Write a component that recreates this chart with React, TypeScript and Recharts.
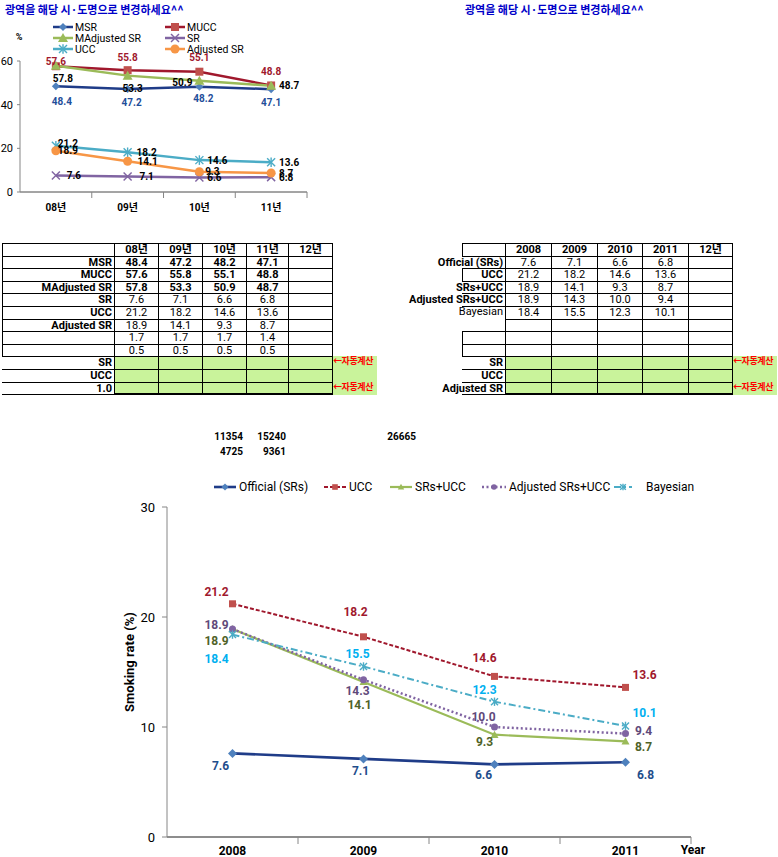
import React from 'react';
import { LineChart, Line, XAxis, YAxis, LabelList } from 'recharts';

// 연도
const yearsKr = ['08년', '09년', '10년', '11년'];
const yearsEn = ['2008', '2009', '2010', '2011'];
const extraYear = '12년';

// 상단 차트 / 좌측 표
const msr = [48.4, 47.2, 48.2, 47.1];
const mucc = [57.6, 55.8, 55.1, 48.8];
const mAdjSr = [57.8, 53.3, 50.9, 48.7];
const sr = [7.6, 7.1, 6.6, 6.8];
const ucc = [21.2, 18.2, 14.6, 13.6];
const adjSr = [18.9, 14.1, 9.3, 8.7];
const ratioA = [1.7, 1.7, 1.7, 1.4];
const ratioB = [0.5, 0.5, 0.5, 0.5];

// 하단 차트 / 우측 표
const adjSrsUcc = [18.9, 14.3, 10.0, 9.4];
const bayesian = [18.4, 15.5, 12.3, 10.1];

// 표 아래 숫자
const countsRow1 = [11354, 15240, 26665];
const countsRow2 = [4725, 9361];

const title = '광역을 해당 시·도명으로 변경하세요^^';
const autoCalc = '←자동계산';

const FONT = "Roboto, 'Noto Sans CJK KR', sans-serif";
const AXIS = '#868686';
const GREEN = '#c9f39b';

const fmt = (a: number[]) => a.map((v) => v.toFixed(1));

const topData = yearsKr.map((y, i) => ({
  pos: i + 0.5,
  msr: msr[i],
  mucc: mucc[i],
  mAdjSr: mAdjSr[i],
  sr: sr[i],
  ucc: ucc[i],
  adjSr: adjSr[i],
}));

const mainData = yearsEn.map((y, i) => ({
  pos: i + 0.5,
  official: sr[i],
  ucc: ucc[i],
  srsUcc: adjSr[i],
  adjSrsUcc: adjSrsUcc[i],
  bayesian: bayesian[i],
}));

type Shape = 'diamond' | 'square' | 'triangle' | 'x' | 'star' | 'circle';

function Mark({ shape, cx, cy, color, s }: { shape: Shape; cx: number; cy: number; color: string; s: number }) {
  if (cx == null || cy == null) return <g />;
  switch (shape) {
    case 'diamond':
      return <polygon points={`${cx},${cy - s} ${cx + s},${cy} ${cx},${cy + s} ${cx - s},${cy}`} fill={color} />;
    case 'square':
      return <rect x={cx - s} y={cy - s} width={2 * s} height={2 * s} fill={color} />;
    case 'triangle':
      return <polygon points={`${cx},${cy - s} ${cx + s},${cy + s * 0.8} ${cx - s},${cy + s * 0.8}`} fill={color} />;
    case 'x':
      return (
        <g stroke={color} strokeWidth={1.5}>
          <line x1={cx - s} y1={cy - s} x2={cx + s} y2={cy + s} />
          <line x1={cx - s} y1={cy + s} x2={cx + s} y2={cy - s} />
        </g>
      );
    case 'star':
      return (
        <g stroke={color} strokeWidth={1.4}>
          <line x1={cx - s} y1={cy - s} x2={cx + s} y2={cy + s} />
          <line x1={cx - s} y1={cy + s} x2={cx + s} y2={cy - s} />
          <line x1={cx} y1={cy - s * 1.2} x2={cx} y2={cy + s * 1.2} />
        </g>
      );
    default:
      return <circle cx={cx} cy={cy} r={s} fill={color} />;
  }
}

interface SeriesCfg {
  key: string;
  name: string;
  line: string;
  mark: string;
  shape: Shape;
  size: number;
  width: number;
  dash?: string;
  labelColor: string;
  off: number[][];
}

const topSeries: SeriesCfg[] = [
  { key: 'msr', name: 'MSR', line: '#1f3c88', mark: '#4f81bd', shape: 'diamond', size: 4, width: 2.5, labelColor: '#1f4e9a', off: [[6, 15], [4, 14], [4, 12], [0, 13]] },
  { key: 'mucc', name: 'MUCC', line: '#a0182d', mark: '#c0504d', shape: 'square', size: 4, width: 2.5, labelColor: '#a0182d', off: [[0, -5], [0, -13], [0, -14], [0, -14]] },
  { key: 'mAdjSr', name: 'MAdjusted SR', line: '#9bbb59', mark: '#9bbb59', shape: 'triangle', size: 5, width: 2.5, labelColor: '#000', off: [[7, 13], [5, 13], [-17, 2], [18, 0]] },
  { key: 'sr', name: 'SR', line: '#8064a2', mark: '#8064a2', shape: 'x', size: 4, width: 2.5, labelColor: '#000', off: [[18, 0], [19, 0], [15, 0], [15, 0]] },
  { key: 'ucc', name: 'UCC', line: '#4bacc6', mark: '#4bacc6', shape: 'star', size: 4, width: 2.5, labelColor: '#000', off: [[12, -2], [19, 0], [18, 0], [18, 0]] },
  { key: 'adjSr', name: 'Adjusted SR', line: '#f79646', mark: '#f79646', shape: 'circle', size: 4.5, width: 2.5, labelColor: '#000', off: [[12, 0], [20, 0], [13, 0], [15, 0]] },
];

const mainSeries: SeriesCfg[] = [
  { key: 'official', name: 'Official (SRs)', line: '#1f3c88', mark: '#4f81bd', shape: 'diamond', size: 4.5, width: 2.6, labelColor: '#1f4e8c', off: [[-12, 13], [-3, 12], [-11, 11], [20, 13]] },
  { key: 'ucc', name: 'UCC', line: '#a0182d', mark: '#c0504d', shape: 'square', size: 3.5, width: 2, dash: '4 2', labelColor: '#a0182d', off: [[-16, -12], [-8, -25], [-10, -18], [19, -12]] },
  { key: 'srsUcc', name: 'SRs+UCC', line: '#9bbb59', mark: '#9bbb59', shape: 'triangle', size: 4, width: 2.2, labelColor: '#4f6228', off: [[-16, 12], [-4, 23], [-10, 7], [18, 6]] },
  { key: 'adjSrsUcc', name: 'Adjusted SRs+UCC', line: '#8064a2', mark: '#8064a2', shape: 'circle', size: 3.5, width: 2.5, dash: '2 2.5', labelColor: '#5f497a', off: [[-16, -4], [-6, 11], [-11, -10], [18, -3]] },
  { key: 'bayesian', name: 'Bayesian', line: '#4bacc6', mark: '#4bacc6', shape: 'star', size: 3.5, width: 2, dash: '7 3 2 3', labelColor: '#00b0f0', off: [[-16, 24], [-6, -13], [-10, -12], [19, -13]] },
];

function renderSeries(list: SeriesCfg[], fontSize: number) {
  return list.map((s) => (
    <Line
      key={s.key}
      type="linear"
      dataKey={s.key}
      stroke={s.line}
      strokeWidth={s.width}
      strokeDasharray={s.dash}
      isAnimationActive={false}
      dot={(p: any) => <Mark key={`${s.key}-${p.index}`} shape={s.shape} cx={Number(p.cx)} cy={Number(p.cy)} color={s.mark} s={s.size} />}
      activeDot={false}
    >
      <LabelList
        dataKey={s.key}
        content={(p: any) => {
          const o = s.off[p.index] || [0, 0];
          return (
            <text
              key={`${s.key}-l-${p.index}`}
              x={Number(p.x) + o[0]}
              y={Number(p.y) + o[1]}
              textAnchor="middle"
              dominantBaseline="central"
              fill={s.labelColor}
              fontSize={fontSize}
              fontWeight="bold"
              fontFamily={FONT}
            >
              {Number(p.value).toFixed(1)}
            </text>
          );
        }}
      />
    </Line>
  ));
}

// category label at the band centre, tick mark at the band's right edge
function bandTick(labels: string[], halfBand: number, tickLen: number, fontSize: number, labelDy: number) {
  return (p: any) => {
    const idx = Math.floor(Number(p.payload.value));
    const x = Number(p.x);
    const y = Number(p.y);
    return (
      <g>
        <line x1={x + halfBand} y1={y - 2} x2={x + halfBand} y2={y - 2 + tickLen} stroke={AXIS} strokeWidth={1} />
        <text x={x} y={y + labelDy} textAnchor="middle" dominantBaseline="central" fontSize={fontSize} fontWeight="bold" fontFamily={FONT} fill="#000">
          {labels[idx]}
        </text>
      </g>
    );
  };
}

function TopChart() {
  const legendPos = [
    [53, 27], [165, 27],
    [53, 38], [165, 38],
    [53, 49], [165, 49],
  ];
  return (
    <div style={{ position: 'absolute', left: 0, top: 0, width: 330, height: 220 }}>
      <LineChart width={330} height={220} data={topData} margin={{ top: 61, right: 23, bottom: 0, left: 0 }}>
        <XAxis
          dataKey="pos"
          type="number"
          domain={[0, 4]}
          ticks={[0.5, 1.5, 2.5, 3.5]}
          interval={0}
          height={28}
          axisLine={{ stroke: AXIS, strokeWidth: 1 }}
          tickLine={false}
          tickSize={0}
          tick={bandTick(yearsKr, 35.9, 6, 10, 13)}
        />
        <YAxis
          width={20}
          domain={[0, 60]}
          ticks={[0, 20, 40, 60]}
          interval={0}
          stroke={AXIS}
          tickSize={3}
          tickMargin={4}
          tick={{ fontSize: 11, fill: '#000', fontFamily: FONT }}
        />
        {renderSeries(topSeries, 10)}
      </LineChart>
      <svg width={330} height={220} style={{ position: 'absolute', left: 0, top: 0, pointerEvents: 'none' }}>
        <line x1={20} y1={192} x2={307} y2={192} stroke={AXIS} strokeWidth={1} />
        <text x={19} y={37} textAnchor="middle" dominantBaseline="central" fontSize={9} fontWeight="bold" fontFamily={FONT}>%</text>
        {topSeries.map((s, i) => {
          const [x, y] = legendPos[i];
          return (
            <g key={s.key}>
              <line x1={x} y1={y} x2={x + 20} y2={y} stroke={s.line} strokeWidth={2.5} />
              <Mark shape={s.shape} cx={x + 10} cy={y} color={s.mark} s={s.size} />
              <text x={x + 22} y={y} dominantBaseline="central" fontSize={10.5} fontFamily={FONT} fill="#000">{s.name}</text>
            </g>
          );
        })}
      </svg>
    </div>
  );
}

function MainChart() {
  const legendX = [214, 324, 390, 482, 614];
  const legendW = [22, 22, 22, 24, 18];
  return (
    <div style={{ position: 'absolute', left: 0, top: 470, width: 778, height: 387 }}>
      <LineChart width={778} height={387} data={mainData} margin={{ top: 37, right: 87, bottom: 0, left: 107 }}>
        <XAxis
          dataKey="pos"
          type="number"
          domain={[0, 4]}
          ticks={[0.5, 1.5, 2.5, 3.5]}
          interval={0}
          height={20}
          axisLine={{ stroke: AXIS, strokeWidth: 1.5 }}
          tickLine={false}
          tickSize={0}
          tick={bandTick(yearsEn, 65.5, 7, 12, 12)}
        />
        <YAxis
          width={60}
          domain={[0, 30]}
          ticks={[0, 10, 20, 30]}
          interval={0}
          stroke={AXIS}
          tickSize={5}
          tickMargin={7}
          tick={{ fontSize: 13, fill: '#000', fontFamily: FONT }}
        />
        {renderSeries(mainSeries, 12)}
      </LineChart>
      <svg width={778} height={387} style={{ position: 'absolute', left: 0, top: 0, pointerEvents: 'none' }}>
        <line x1={167} y1={367} x2={691} y2={367} stroke={AXIS} strokeWidth={1.5} />
        <text
          x={129}
          y={192}
          transform="rotate(-90 129 192)"
          textAnchor="middle"
          dominantBaseline="central"
          fontSize={13}
          fontWeight="bold"
          fontFamily={FONT}
        >
          Smoking rate (%)
        </text>
        <text x={693} y={380} textAnchor="middle" dominantBaseline="central" fontSize={12} fontWeight="bold" fontFamily={FONT}>Year</text>
        {mainSeries.map((s, i) => {
          const x = legendX[i];
          const w = legendW[i];
          return (
            <g key={s.key}>
              <line x1={x} y1={17} x2={x + w} y2={17} stroke={s.line} strokeWidth={s.width} strokeDasharray={s.dash} />
              <Mark shape={s.shape} cx={x + w / 2} cy={17} color={s.mark} s={s.size * 0.8} />
              <text x={x + w + (i === 4 ? 14 : 3)} y={17} dominantBaseline="central" fontSize={12} fontFamily={FONT} fill="#000">{s.name}</text>
            </g>
          );
        })}
      </svg>
    </div>
  );
}

interface RowCfg {
  label: string;
  cells: string[];
  bold?: boolean;
  labelBold?: boolean;
  green?: boolean;
  arrow?: boolean;
  labelBorder?: boolean;
  labelLeft?: boolean;
}

function SheetTable({ edges, extraEnd, rows, top, rowH }: { edges: number[]; extraEnd: number; rows: RowCfg[]; top: number; rowH: number }) {
  const out: React.ReactNode[] = [];
  rows.forEach((r, ri) => {
    const y = top + ri * rowH;
    const base: React.CSSProperties = {
      position: 'absolute',
      top: y,
      height: rowH + 1,
      boxSizing: 'border-box',
      lineHeight: `${rowH - 1}px`,
      fontSize: 11,
      fontFamily: FONT,
      whiteSpace: 'nowrap',
    };
    out.push(
      <div
        key={`l${ri}`}
        style={{
          ...base,
          left: edges[0],
          width: edges[1] - edges[0] + 1,
          textAlign: 'right',
          paddingRight: 2,
          fontWeight: r.labelBold === false ? 'normal' : 'bold',
          borderTop: r.labelBorder ? '1px solid #000' : 'none',
          borderBottom: r.labelBorder ? '1px solid #000' : 'none',
          borderLeft: r.labelLeft ? '1.5px solid #000' : 'none',
          borderRight: '1px solid #000',
          display: 'flex',
          justifyContent: 'flex-end',
        }}
      >
        <span>{r.label}</span>
      </div>
    );
    if (r.green) {
      out.push(
        <div key={`g${ri}`} style={{ ...base, left: edges[1], width: extraEnd - edges[1], background: GREEN }} />
      );
    }
    for (let c = 0; c < edges.length - 2; c++) {
      out.push(
        <div
          key={`c${ri}-${c}`}
          style={{
            ...base,
            left: edges[c + 1],
            width: edges[c + 2] - edges[c + 1] + 1,
            border: '1px solid #000',
            textAlign: 'center',
            fontWeight: r.bold ? 'bold' : 'normal',
            background: r.green ? GREEN : 'transparent',
          }}
        >
          {r.cells[c] || ''}
        </div>
      );
    }
    if (r.arrow) {
      out.push(
        <div
          key={`a${ri}`}
          style={{ ...base, left: edges[edges.length - 1] + 1, width: extraEnd - edges[edges.length - 1] - 1, color: '#ff0000', fontWeight: 'bold', fontSize: 9, letterSpacing: -0.4 }}
        >
          {autoCalc}
        </div>
      );
    }
  });
  const bottom = top + rows.length * rowH;
  out.push(
    <div key="bb" style={{ position: 'absolute', left: edges[1], top: bottom - 1, width: edges[edges.length - 1] - edges[1] + 1, height: 2, background: '#000' }} />
  );
  return <>{out}</>;
}

const leftRows: RowCfg[] = [
  { label: '', cells: [...yearsKr, extraYear], bold: true, labelBorder: true, labelLeft: true },
  { label: 'MSR', cells: fmt(msr), bold: true, labelBorder: true, labelLeft: true },
  { label: 'MUCC', cells: fmt(mucc), bold: true, labelBorder: true, labelLeft: true },
  { label: 'MAdjusted SR', cells: fmt(mAdjSr), bold: true, labelBorder: true, labelLeft: true },
  { label: 'SR', cells: fmt(sr), labelBorder: true, labelLeft: true },
  { label: 'UCC', cells: fmt(ucc), labelBorder: true, labelLeft: true },
  { label: 'Adjusted SR', cells: fmt(adjSr), labelBorder: true, labelLeft: true },
  { label: '', cells: fmt(ratioA), labelBorder: true, labelLeft: true },
  { label: '', cells: fmt(ratioB), labelBorder: true, labelLeft: true },
  { label: 'SR', cells: [], green: true, arrow: true, labelBorder: true },
  { label: 'UCC', cells: [], green: true, labelBorder: true },
  { label: '1.0', cells: [], green: true, arrow: true, labelBorder: true },
];

const rightRows: RowCfg[] = [
  { label: '', cells: [...yearsEn, extraYear], bold: true, labelBorder: true, labelLeft: true },
  { label: 'Official (SRs)', cells: fmt(sr), labelBorder: true },
  { label: 'UCC', cells: fmt(ucc), labelBorder: true, labelLeft: true },
  { label: 'SRs+UCC', cells: fmt(adjSr), labelBorder: true },
  { label: 'Adjusted SRs+UCC', cells: fmt(adjSrsUcc), labelBorder: true },
  { label: 'Bayesian', cells: fmt(bayesian), labelBold: false },
  { label: '', cells: [] },
  { label: '', cells: [], labelBorder: true, labelLeft: true },
  { label: '', cells: [], labelBorder: true, labelLeft: true },
  { label: 'SR', cells: [], green: true, arrow: true, labelBorder: true },
  { label: 'UCC', cells: [], green: true, labelBorder: true },
  { label: 'Adjusted SR', cells: [], green: true, arrow: true, labelBorder: true },
];

export default function App() {
  const countPos1 = [243, 286, 416];
  const countPos2 = [243, 286];
  const titleStyle: React.CSSProperties = {
    position: 'absolute',
    top: 1,
    color: '#0000c8',
    fontWeight: 'bold',
    fontSize: 11,
    fontFamily: "'Noto Sans CJK KR', sans-serif",
    whiteSpace: 'nowrap',
  };
  const countStyle: React.CSSProperties = {
    position: 'absolute',
    fontWeight: 'bold',
    fontSize: 10,
    fontFamily: FONT,
    textAlign: 'right',
    width: 40,
  };
  return (
    <div style={{ position: 'absolute', left: 0, top: 0, width: 778, height: 857, background: '#fff', overflow: 'hidden' }}>
      <div style={{ ...titleStyle, left: 5 }}>{title}</div>
      <div style={{ ...titleStyle, left: 465 }}>{title}</div>
      <TopChart />
      <SheetTable edges={[2, 114, 158, 202, 246, 288, 332]} extraEnd={377} rows={leftRows} top={243} rowH={12.6} />
      <SheetTable edges={[462, 505, 551, 597, 642, 688, 732]} extraEnd={777} rows={rightRows} top={243} rowH={12.6} />
      {countsRow1.map((v, i) => (
        <div key={`n1${i}`} style={{ ...countStyle, left: countPos1[i] - 40, top: 431 }}>{v}</div>
      ))}
      {countsRow2.map((v, i) => (
        <div key={`n2${i}`} style={{ ...countStyle, left: countPos2[i] - 40, top: 446 }}>{v}</div>
      ))}
      <MainChart />
    </div>
  );
}
